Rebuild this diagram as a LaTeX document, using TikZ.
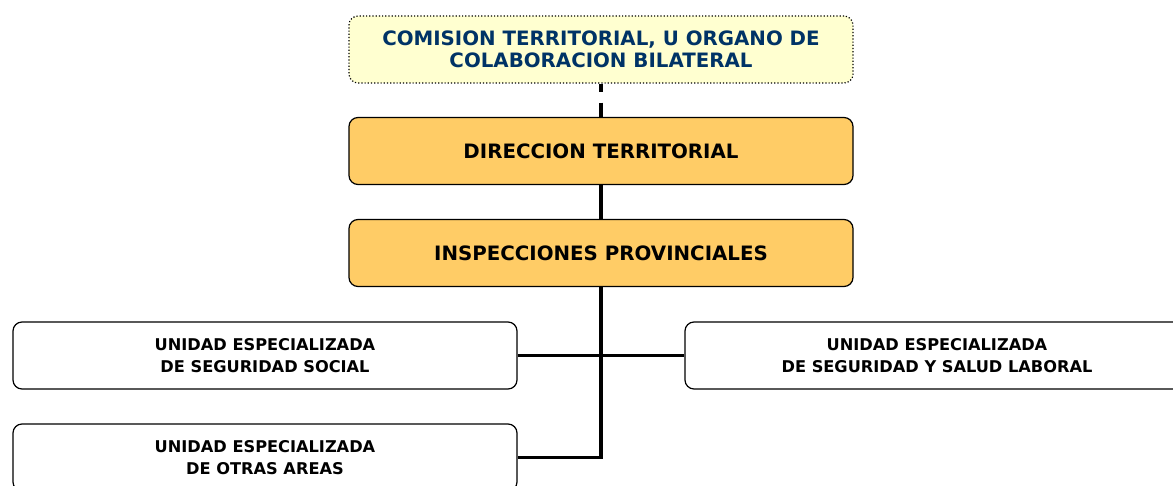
\documentclass[tikz,border=0pt]{standalone}
\usepackage{fontspec}
\setmainfont{DejaVu Sans}
\definecolor{comfill}{HTML}{FFFFD0}
\definecolor{comtext}{HTML}{003366}
\definecolor{dirfill}{HTML}{FFCC66}
\begin{document}
\begin{tikzpicture}[x=1pt,y=-1pt,
		caja/.style={draw,rounded corners=9pt,line width=1.2pt,minimum width=504pt,minimum height=67pt,align=center,font=\bfseries\fontsize{19.8}{21.5}\selectfont},
		unidad/.style={caja,fill=white,font=\bfseries\fontsize{16.2}{22}\selectfont},
		linea/.style={line width=3.8pt}]
	\useasboundingbox (0,0) rectangle (1173,486);
	\node[caja,dotted,fill=comfill,text=comtext] (com) at (601,49.5) {COMISION TERRITORIAL, U ORGANO DE\\COLABORACION BILATERAL};
	\node[caja,fill=dirfill] (dir) at (601,151) {DIRECCION TERRITORIAL};
	\node[caja,fill=dirfill] (insp) at (601,253) {INSPECCIONES PROVINCIALES};
	\node[unidad] (ss) at (265,355.5) {UNIDAD ESPECIALIZADA\\DE SEGURIDAD SOCIAL};
	\node[unidad] (ssl) at (937,355.5) {UNIDAD ESPECIALIZADA\\DE SEGURIDAD Y SALUD LABORAL};
	\node[unidad] (otras) at (265,457.5) {UNIDAD ESPECIALIZADA\\DE OTRAS AREAS};
	\draw[linea,dash pattern=on 8pt off 11pt on 20pt off 0pt] (com) -- (dir);
	\draw[linea] (dir) -- (insp);
	\draw[linea] (insp.south) |- (otras.east);
	\draw[linea] (ss.east) -- (ssl.west);
\end{tikzpicture}
\end{document}
